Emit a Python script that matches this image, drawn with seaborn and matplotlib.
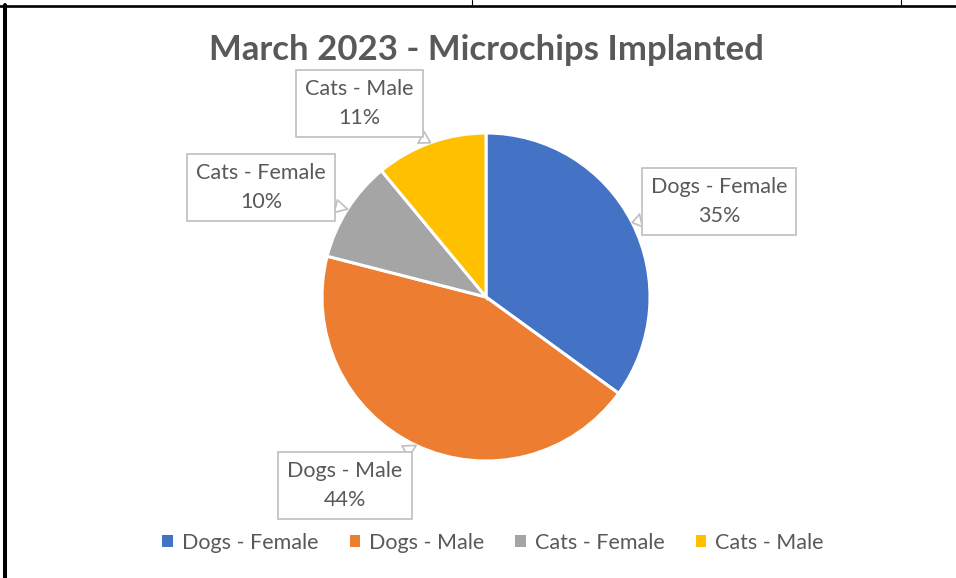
import numpy as np
import matplotlib
matplotlib.use("Agg")
import matplotlib.pyplot as plt
from matplotlib.lines import Line2D
import seaborn as sns

# Data
categorias = ["Dogs - Female", "Dogs - Male", "Cats - Female", "Cats - Male"]
percentuais = [35, 44, 10, 11]
cores = ["#4472C4", "#ED7D31", "#A5A5A5", "#FFC000"]

# posicao das caixas de rotulo (em unidades do raio da pizza)
pos_rotulos = [(1.42, 0.58), (-0.86, -1.15), (-1.37, 0.67), (-0.77, 1.18)]

sns.set_theme(style="white")
plt.rcParams["font.family"] = ["Lato", "DejaVu Sans"]
cinza_texto = "#595959"

W, H = 956, 578
fig = plt.figure(figsize=(W / 100, H / 100), dpi=100)
ax = fig.add_axes([0, 0, 1, 1])

cx, cy, raio = 486, 297, 164
wedges, _ = ax.pie(
    percentuais,
    colors=cores,
    startangle=90,
    counterclock=False,
    wedgeprops=dict(edgecolor="white", linewidth=2.2),
)
ax.set_aspect("auto")
ax.set_xlim(-cx / raio, (W - cx) / raio)
ax.set_ylim(-(H - cy) / raio, cy / raio)
ax.axis("off")

# Rotulos tipo "callout"
for w, cat, pct, pos in zip(wedges, categorias, percentuais, pos_rotulos):
    ang = np.deg2rad((w.theta1 + w.theta2) / 2)
    alvo = (np.cos(ang), np.sin(ang))
    ax.annotate(
        f"{cat}\n{pct}%",
        xy=alvo,
        xytext=pos,
        ha="center",
        va="center",
        fontsize=15.5,
        color=cinza_texto,
        linespacing=1.55,
        bbox=dict(boxstyle="square,pad=0.42", fc="white", ec="#BFBFBF", lw=1.2),
        arrowprops=dict(
            arrowstyle="wedge,tail_width=0.6",
            fc="white",
            ec="#BFBFBF",
            lw=1.2,
            shrinkA=0,
            shrinkB=0,
        ),
    )

# Titulo
fig.text(
    cx / W,
    1 - 50 / H,
    "March 2023 - Microchips Implanted",
    ha="center",
    va="center",
    fontsize=25,
    fontweight="bold",
    color=cinza_texto,
)

# Legenda
leg = fig.legend(
    wedges,
    categorias,
    loc="center",
    bbox_to_anchor=((164 + 822) / 2 / W, 1 - 543 / H),
    ncol=4,
    frameon=False,
    handlelength=0.5,
    handleheight=0.5,
    handletextpad=0.4,
    columnspacing=1.45,
    fontsize=15.5,
)
for t in leg.get_texts():
    t.set_color(cinza_texto)
for h in leg.legend_handles:
    h.set_edgecolor("none")

# Bordas da celula da planilha
fig.add_artist(Line2D([0, 1], [1 - 6 / H, 1 - 6 / H], transform=fig.transFigure, color="black", lw=1.9))
fig.add_artist(Line2D([5.3 / W, 5.3 / W], [0, 1 - 5 / H], transform=fig.transFigure, color="black", lw=2.9))
for xt in (472, 901):
    fig.add_artist(Line2D([xt / W, xt / W], [1 - 5 / H, 1], transform=fig.transFigure, color="black", lw=0.8))

fig.savefig("out.png", dpi=100, facecolor="white")
